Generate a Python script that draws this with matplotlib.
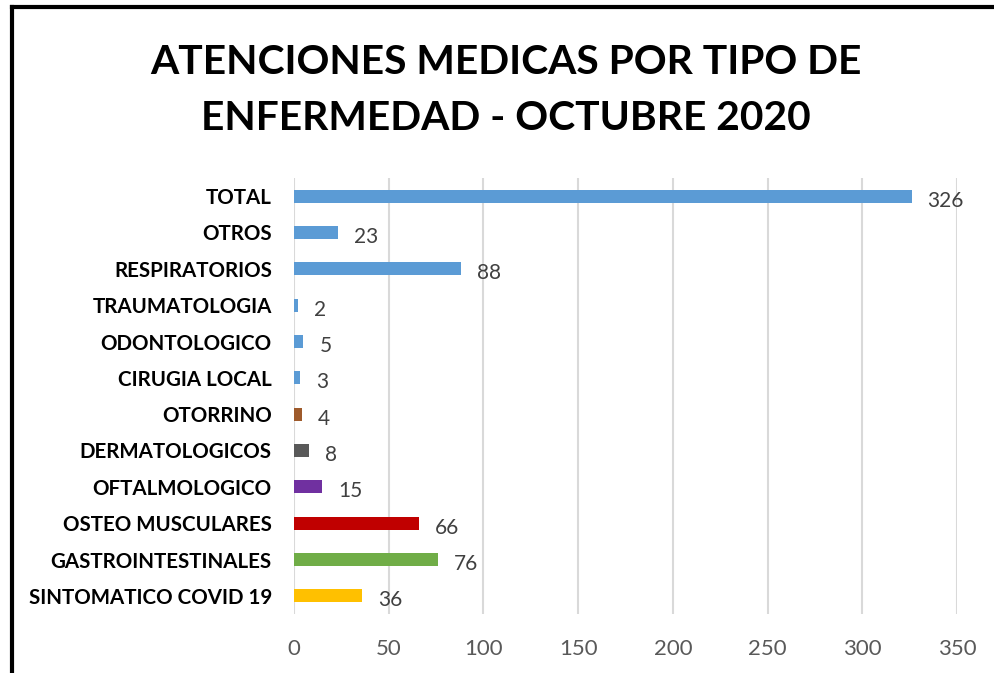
import matplotlib.pyplot as plt
from matplotlib.lines import Line2D

# categorias de abajo hacia arriba, como en el grafico
categorias = ["SINTOMATICO COVID 19", "GASTROINTESTINALES", "OSTEO MUSCULARES",
              "OFTALMOLOGICO", "DERMATOLOGICOS", "OTORRINO", "CIRUGIA LOCAL",
              "ODONTOLOGICO", "TRAUMATOLOGIA", "RESPIRATORIOS", "OTROS", "TOTAL"]
atenciones = [36, 76, 66, 15, 8, 4, 3, 5, 2, 88, 23, 326]
colores = ["#FFC000", "#70AD47", "#C00000", "#7030A0", "#595959", "#9E5A2B",
           "#5B9BD5", "#5B9BD5", "#5B9BD5", "#5B9BD5", "#5B9BD5", "#5B9BD5"]
ticks_x = [0, 50, 100, 150, 200, 250, 300, 350]

plt.rcParams['font.family'] = ['Lato', 'DejaVu Sans']

fig = plt.figure(figsize=(9.95, 6.73), dpi=100)
ax = fig.add_axes([294/995, 1-614/673, 663/995, 436/673])

pos = list(range(len(categorias)))
ax.barh(pos, atenciones, height=0.36, color=colores, zorder=3)
for y, v in zip(pos, atenciones):
    ax.text(v + 8.5, y - 0.12, str(v), va='center', ha='left',
            fontsize=15, color="#404040")

ax.set_xlim(0, 350)
ax.set_ylim(-0.5, len(categorias) - 0.5)
ax.set_xticks(ticks_x)
ax.set_xticklabels([str(t) for t in ticks_x], fontsize=16, color="#595959")
ax.set_yticks(pos)
ax.set_yticklabels(categorias, fontsize=14.8, fontweight='bold', color="black")
ax.tick_params(axis='both', length=0)
ax.tick_params(axis='x', pad=18)
ax.tick_params(axis='y', pad=16)
ax.grid(axis='x', color="#D9D9D9", linewidth=1.5, zorder=0)
for s in ax.spines.values():
    s.set_visible(False)

fig.text(0.508, 1-63/673, "ATENCIONES MEDICAS POR TIPO DE", ha='center', va='center',
         fontsize=29.3, fontweight='bold')
fig.text(0.508, 1-119/673, "ENFERMEDAD - OCTUBRE 2020", ha='center', va='center',
         fontsize=29.3, fontweight='bold')

# borde negro (recortado a la derecha y abajo)
fig.add_artist(Line2D([12/995, 12/995], [0, 1-7/673], color='black', linewidth=3,
                      transform=fig.transFigure))
fig.add_artist(Line2D([12/995, 1], [1-7/673, 1-7/673], color='black', linewidth=3,
                      transform=fig.transFigure))

fig.savefig("out.png", dpi=100)
